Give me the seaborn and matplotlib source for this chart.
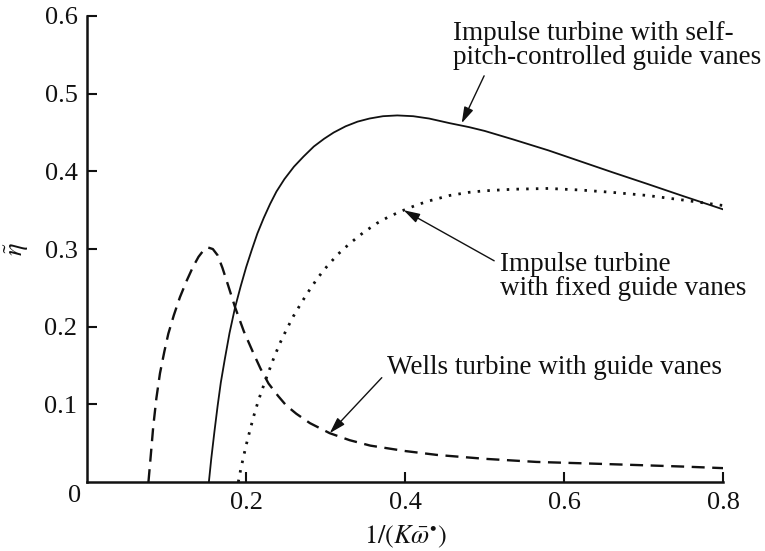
import numpy as np
import pandas as pd
import matplotlib
matplotlib.use("Agg")
import matplotlib.pyplot as plt
import seaborn as sns

# ---- data ----
wells_x = [0.077, 0.080, 0.083, 0.087, 0.0915, 0.097, 0.102, 0.109, 0.1166, 0.125,
           0.133, 0.140, 0.146, 0.152, 0.158, 0.164, 0.170, 0.177, 0.186, 0.197,
           0.209, 0.218, 0.228, 0.240, 0.250, 0.263, 0.280, 0.305, 0.330, 0.356,
           0.400, 0.440, 0.500, 0.565, 0.630, 0.691, 0.750, 0.800]
wells_y = [0.000, 0.035, 0.071, 0.108, 0.140, 0.168, 0.191, 0.215, 0.238, 0.259,
           0.277, 0.290, 0.298, 0.302, 0.300, 0.292, 0.276, 0.254, 0.225, 0.194,
           0.166, 0.146, 0.127, 0.111, 0.099, 0.088, 0.076, 0.063, 0.054, 0.047,
           0.040, 0.035, 0.030, 0.026, 0.024, 0.022, 0.020, 0.018]

selfpitch_x = [0.153, 0.156, 0.160, 0.164, 0.168, 0.173, 0.179, 0.186, 0.193, 0.200,
               0.207, 0.214, 0.222, 0.230, 0.238, 0.248, 0.260, 0.272, 0.285, 0.298,
               0.310, 0.325, 0.340, 0.355, 0.372, 0.390, 0.410, 0.430, 0.456, 0.480,
               0.500, 0.536, 0.580, 0.620, 0.660, 0.704, 0.750, 0.800]
selfpitch_y = [0.000, 0.030, 0.065, 0.098, 0.128, 0.158, 0.192, 0.225, 0.252, 0.277,
               0.299, 0.320, 0.340, 0.358, 0.374, 0.390, 0.406, 0.419, 0.432, 0.442,
               0.450, 0.458, 0.464, 0.468, 0.471, 0.472, 0.471, 0.468, 0.462, 0.457,
               0.452, 0.441, 0.427, 0.413, 0.399, 0.384, 0.368, 0.351]

fixed_x = [0.190, 0.193, 0.196, 0.200, 0.205, 0.210, 0.215, 0.220, 0.226, 0.234,
           0.242, 0.250, 0.259, 0.270, 0.280, 0.290, 0.301, 0.315, 0.330, 0.347,
           0.364, 0.380, 0.398, 0.415, 0.430, 0.456, 0.480, 0.500, 0.536, 0.580,
           0.620, 0.660, 0.704, 0.750, 0.800]
fixed_y = [0.000, 0.016, 0.030, 0.048, 0.068, 0.087, 0.104, 0.119, 0.136, 0.158,
           0.178, 0.195, 0.213, 0.232, 0.248, 0.263, 0.277, 0.293, 0.307, 0.321,
           0.333, 0.342, 0.350, 0.357, 0.362, 0.369, 0.373, 0.375, 0.377, 0.378,
           0.376, 0.373, 0.369, 0.363, 0.356]

x_ticks = [0.2, 0.4, 0.6, 0.8]
y_ticks = [0.1, 0.2, 0.3, 0.4, 0.5, 0.6]

label_selfpitch = "Impulse turbine with self-\npitch-controlled guide vanes"
label_fixed = "Impulse turbine\nwith fixed guide vanes"
label_wells = "Wells turbine with guide vanes"

# ---- style ----
sns.set_theme(style="white")
plt.rcParams["font.family"] = ["Liberation Serif", "DejaVu Serif"]
plt.rcParams["mathtext.fontset"] = "stix"

FS = 19
FA = 19.5

fig = plt.figure(figsize=(7.65, 5.51), dpi=100)
ax = fig.add_axes([0.114, 0.125, 0.8315, 0.846])

ink = "#111111"
sns.lineplot(x=wells_x, y=wells_y, ax=ax, color=ink, lw=1.7, sort=False,
             linestyle=(0, (5.5, 3.2)))
sns.lineplot(x=selfpitch_x, y=selfpitch_y, ax=ax, color=ink, lw=1.3, sort=False)
sns.lineplot(x=fixed_x, y=fixed_y, ax=ax, color=ink, lw=2.0, sort=False,
             linestyle=(0, (0.9, 2.6)))

ax.set_xlim(0, 0.8)
ax.set_ylim(0, 0.6)
ax.set_xticks(x_ticks)
ax.set_xticklabels([f"{v:.1f}" for v in x_ticks])
ax.set_yticks(y_ticks)
ax.set_yticklabels([f"{v:.1f}" for v in y_ticks])

for s in ["top", "right"]:
    ax.spines[s].set_visible(False)
for s in ["left", "bottom"]:
    ax.spines[s].set_color(ink)
    ax.spines[s].set_linewidth(1.8)

ax.tick_params(axis="both", direction="in", length=7, width=1.5, colors=ink,
               labelsize=FS, pad=7, left=True, bottom=True)

ax.set_xlabel(r"$1/(K\bar{\omega}^{\bullet})$", fontsize=FS, color=ink, labelpad=7)
ax.set_ylabel(r"$\tilde{\eta}$", fontsize=FS, color=ink, labelpad=10)

ax.annotate("0", xy=(0, 0), xycoords="data", xytext=(-9, -10),
            textcoords="offset points", ha="center", va="center",
            fontsize=FS, color=ink, annotation_clip=False)

arrow = dict(arrowstyle="-|>,head_length=0.5,head_width=0.15", color=ink, lw=1.0,
             shrinkA=2, shrinkB=0)

ax.annotate(label_selfpitch, xy=(0.471, 0.462), xytext=(0.46, 0.562),
            ha="left", va="center", fontsize=FA, color=ink, linespacing=0.95,
            annotation_clip=False, arrowprops=dict(arrow, relpos=(0.11, 0.0)))
ax.annotate(label_fixed, xy=(0.398, 0.350), xytext=(0.519, 0.265),
            ha="left", va="center", fontsize=FA, color=ink, linespacing=0.95,
            arrowprops=dict(arrow, relpos=(0.0, 0.75)))
ax.annotate(label_wells, xy=(0.305, 0.063), xytext=(0.377, 0.148),
            ha="left", va="center", fontsize=FA, color=ink,
            arrowprops=dict(arrow, relpos=(0.0, 0.3)))

fig.savefig("out.png", dpi=100)
